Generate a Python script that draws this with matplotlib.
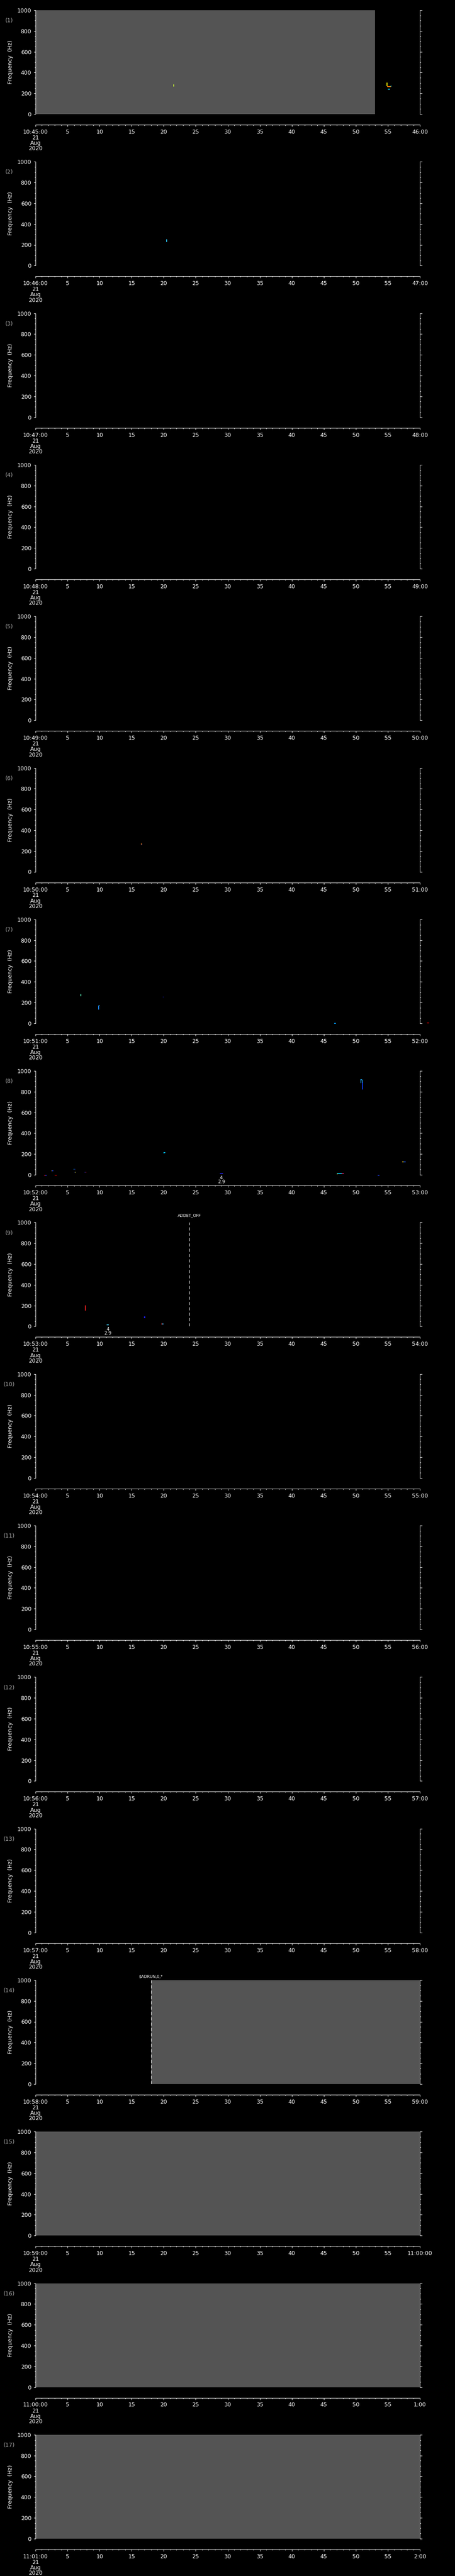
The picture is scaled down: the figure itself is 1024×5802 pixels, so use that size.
import matplotlib
matplotlib.use('Agg')
import matplotlib.pyplot as plt
from matplotlib.ticker import MultipleLocator, FixedLocator, FixedFormatter

W, H, DPI = 1024, 5802, 100
PT = 72.0 / DPI  # points per pixel

# one-minute panels, 21 Aug 2020
start_labels = ['10:45:00', '10:46:00', '10:47:00', '10:48:00', '10:49:00', '10:50:00',
                '10:51:00', '10:52:00', '10:53:00', '10:54:00', '10:55:00', '10:56:00',
                '10:57:00', '10:58:00', '10:59:00', '11:00:00', '11:01:00']
end_labels = ['46:00', '47:00', '48:00', '49:00', '50:00', '51:00', '52:00', '53:00',
              '54:00', '55:00', '56:00', '57:00', '58:00', '59:00', '11:00:00', '1:00', '2:00']
mid_labels = ['5', '10', '15', '20', '25', '30', '35', '40', '45', '50', '55']
date_text = '21\nAug\n2020'

# grey (no data) coverage, seconds into the panel
gray_panel = [1, 14, 15, 16, 17]
gray_from = [0.0, 18.0, 0.0, 0.0, 0.0]
gray_to = [53.0, 60.0, 60.0, 60.0, 60.0]

# event markers
event_panel = [9, 14]
event_time = [24.0, 18.0]
event_label = ['ADDET_OFF', '$ADRUN,0,*']
event_lift = [16, 8]  # px above the plot

# detection annotations
det_panel = [8, 9]
det_time = [29.0, 11.3]
det_count = ['4', '4']
det_value = ['2.9', '2.9']

# small spectrogram marks: panel, t0, t1 (s), f0, f1 (Hz), colour
mark_panel = [1, 1, 1, 1, 1,
              2,
              6, 6,
              7, 7, 7, 7, 7, 7,
              8, 8, 8, 8, 8, 8, 8, 8, 8, 8, 8, 8, 8, 8, 8, 8, 8, 8, 8, 8, 8, 8, 8, 8,
              9, 9, 9, 9, 9]
mark_t0 = [21.5, 54.8, 54.9, 55.4, 55.0,
           20.4,
           16.45, 16.55,
           7.0, 9.8, 9.85, 19.85, 46.6, 61.1,
           1.3, 1.5, 2.5, 2.6, 3.0, 5.9, 6.0, 6.0, 6.1, 7.6, 7.75, 20.0, 20.0, 28.8,
           50.7, 50.72, 50.9, 51.0, 47.0, 47.1, 47.8, 53.4, 57.2, 57.4,
           7.7, 16.9, 19.6, 19.75, 11.1]
mark_t1 = [21.6, 54.85, 55.4, 55.5, 55.3,
           20.45,
           16.55, 16.6,
           7.05, 9.85, 9.95, 20.0, 46.8, 61.4,
           1.5, 1.64, 2.6, 2.7, 3.24, 6.0, 6.2, 6.1, 6.24, 7.75, 7.9, 20.2, 20.05, 29.2,
           50.72, 50.9, 50.95, 51.05, 47.1, 47.8, 48.1, 53.6, 57.4, 57.7,
           7.75, 17.05, 19.75, 19.9, 11.4]
mark_f0 = [268, 272, 268, 270, 242,
           232,
           268, 258,
           265, 138, 172, 254, 2, 4,
           0, 0, 43, 43, 0, 56, 56, 26, 26, 26, 26, 217, 210, 17,
           887, 916, 890, 827, 12, 17, 17, 0, 128, 128,
           156, 81, 26, 26, 17]
mark_f1 = [286, 305, 268, 272, 242,
           252,
           272, 270,
           282, 172, 175, 256, 2, 4,
           0, 0, 43, 43, 0, 56, 56, 26, 26, 26, 26, 217, 217, 17,
           916, 916, 916, 891, 12, 17, 17, 0, 128, 128,
           202, 95, 26, 26, 17]
mark_color = ['#d0ff30', '#ffff00', '#ff8000', '#00e0ff', '#00e0ff',
              '#30d0ff',
              '#ff8000', '#3050ff',
              '#60ffc0', '#1e90ff', '#40c0ff', '#2020ff', '#00a0ff', '#d00000',
              '#c00000', '#2040ff', '#ffd000', '#2040ff', '#b00000', '#00c0ff', '#2040ff',
              '#2040ff', '#ffff40', '#2040ff', '#c00000', '#00c8ff', '#00c8ff', '#2020e0',
              '#20b0ff', '#20b0ff', '#20b0ff', '#1040ff', '#ffff00', '#00d0ff', '#d02060',
              '#2040ff', '#ffd000', '#2060ff',
              '#ff2020', '#2020ff', '#ff4040', '#40c0ff', '#40d0ff']

GREY = '#545454'
plt.rcParams['font.family'] = ['DejaVu Sans']

fig = plt.figure(figsize=(W / DPI, H / DPI), dpi=DPI, facecolor='black')

X0, XW = 80, 865
PH, PITCH, TOP0 = 234, 341.3, 23

for k in range(17):
    n = k + 1
    top = TOP0 + k * PITCH
    ax = fig.add_axes([X0 / W, 1 - (top + PH) / H, XW / W, PH / H])
    ax.set_facecolor('black')
    ax.set_xlim(0, 60)
    ax.set_ylim(0, 1000)

    for s in ('top',):
        ax.spines[s].set_visible(False)
    for s in ('left', 'right', 'bottom'):
        ax.spines[s].set_color('white')
        ax.spines[s].set_linewidth(1.0 * PT)
    ax.spines['bottom'].set_position(('outward', 24 * PT))

    ax.xaxis.set_major_locator(FixedLocator(list(range(0, 61, 5))))
    ax.xaxis.set_major_formatter(FixedFormatter([start_labels[k]] + mid_labels + [end_labels[k]]))
    ax.xaxis.set_minor_locator(MultipleLocator(1))
    ax.yaxis.set_major_locator(MultipleLocator(200))
    ax.yaxis.set_minor_locator(MultipleLocator(50))

    ax.tick_params(axis='both', which='both', direction='out', colors='white',
                   width=1.0 * PT, labelsize=9)
    ax.tick_params(axis='x', which='major', length=4 * PT, pad=6 * PT)
    ax.tick_params(axis='x', which='minor', length=2.5 * PT)
    ax.tick_params(axis='y', which='major', length=4.5 * PT, pad=5 * PT,
                   left=True, right=True, labelleft=True, labelright=False)
    ax.tick_params(axis='y', which='minor', length=2.5 * PT, left=True, right=True)

    # date under first tick
    ax.annotate(date_text, xy=(0, 0), xycoords=('data', 'axes fraction'),
                xytext=(0, -47 * PT), textcoords='offset points',
                ha='center', va='top', color='white', fontsize=9,
                linespacing=0.92, annotation_clip=False)

    ax.text((21 - X0) / XW, 1 - 23.7 / PH, '(%d)' % n, transform=ax.transAxes,
            ha='center', va='center', color='#a8a8a8', fontsize=9)
    ax.text((23 - X0) / XW, 0.5, 'Frequency  (Hz)', transform=ax.transAxes,
            ha='center', va='center', rotation=90, color='white', fontsize=9)

    for p, a, b in zip(gray_panel, gray_from, gray_to):
        if p == n:
            ax.axvspan(a, b, color=GREY, lw=0, zorder=1)

    for p, a, b, f0, f1, c in zip(mark_panel, mark_t0, mark_t1, mark_f0, mark_f1, mark_color):
        if p == n:
            if f0 == f1:
                f0, f1 = f0 - 2, f1 + 2
            ax.fill_between([a, b], [f0, f0], [f1, f1], color=c, lw=0.6,
                            edgecolor=c, zorder=3, clip_on=False)

    for p, t, lab, lift in zip(event_panel, event_time, event_label, event_lift):
        if p == n:
            ax.axvline(t, ymin=0, ymax=1, color='white', lw=1.0 * PT,
                       linestyle=(0, (7, 5)), zorder=4)
            ax.annotate(lab, xy=(t, 1), xycoords=('data', 'axes fraction'),
                        xytext=(0, lift * PT), textcoords='offset points',
                        ha='center', va='center', color='white', fontsize=6.5,
                        annotation_clip=False)

    for p, t, c, v in zip(det_panel, det_time, det_count, det_value):
        if p == n:
            ax.annotate(c, xy=(t, 0), xycoords=('data', 'axes fraction'),
                        xytext=(0, -6.5 * PT), textcoords='offset points',
                        ha='center', va='center', color='white', fontsize=7.5,
                        annotation_clip=False)
            ax.annotate(v, xy=(t, 0), xycoords=('data', 'axes fraction'),
                        xytext=(0, -15.5 * PT), textcoords='offset points',
                        ha='center', va='center', color='white', fontsize=7.5,
                        annotation_clip=False)

fig.savefig('out.png', dpi=DPI, facecolor='black')
